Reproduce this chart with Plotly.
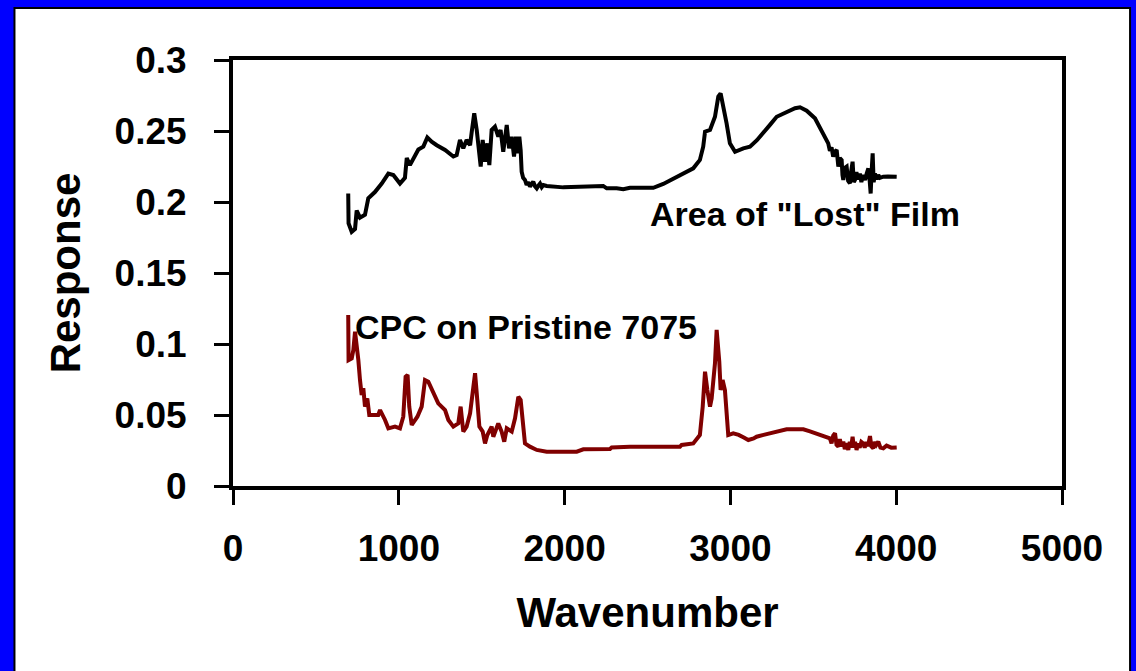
import plotly.graph_objects as go

# Wavenumber / response readings for the "Area of Lost Film" spectrum (black)
lost_x = [695, 697, 716, 736, 746, 766, 796, 816, 856, 897, 937, 967, 1007, 1037, 1048, 1067,
          1118, 1148, 1172, 1198, 1229, 1279, 1329, 1349, 1369, 1389, 1409, 1430, 1440, 1455,
          1470, 1480, 1494, 1506, 1520, 1534, 1546, 1560, 1580, 1600, 1614, 1630, 1651, 1665,
          1681, 1695, 1707, 1717, 1727, 1735, 1741, 1750, 1761, 1771, 1781, 1791, 1801, 1811,
          1822, 1832, 1842, 1852, 1862, 1872, 1892, 1992,
          2233, 2254, 2314, 2354, 2394, 2535, 2595, 2696, 2776, 2816, 2836, 2847, 2877, 2907,
          2927, 2941, 2957, 2977, 2997, 3028, 3078, 3118, 3160, 3198, 3240, 3279, 3320, 3359,
          3390, 3420, 3460, 3510, 3550, 3590, 3600, 3610, 3620, 3630, 3641, 3646, 3651, 3660,
          3671, 3676, 3681, 3690, 3701, 3710, 3721, 3729, 3737, 3744, 3751, 3760, 3770, 3781,
          3790, 3800, 3812, 3822, 3832, 3840, 3846, 3852, 3858, 3864, 3872, 3882, 3892, 3902,
          3922, 3950, 4003]
lost_y = [0.206, 0.185, 0.179, 0.181, 0.194, 0.189, 0.191, 0.2026, 0.207, 0.213, 0.220, 0.219,
          0.213, 0.217, 0.231, 0.226, 0.237, 0.239, 0.2455, 0.2425, 0.240, 0.2366, 0.232, 0.233,
          0.2437, 0.2378, 0.2437, 0.240, 0.2495, 0.2625, 0.2507, 0.2366, 0.2249, 0.2437, 0.2284,
          0.2413, 0.226, 0.2507, 0.253, 0.246, 0.2507, 0.2354, 0.2542, 0.2378, 0.246, 0.232,
          0.246, 0.2343, 0.246, 0.2366, 0.2213, 0.217, 0.2155, 0.212, 0.214, 0.2108, 0.2125,
          0.2143, 0.211, 0.2096, 0.2115, 0.213, 0.2105, 0.212, 0.2113, 0.2103,
          0.2113, 0.2096, 0.2096, 0.209, 0.210, 0.210, 0.2127, 0.219, 0.2237, 0.2296,
          0.239, 0.2495, 0.2507, 0.260, 0.2742, 0.2765, 0.2683, 0.2554, 0.2413, 0.2354, 0.2378,
          0.239, 0.2435, 0.2484, 0.2545, 0.260, 0.2625, 0.2648, 0.266, 0.2667, 0.2643, 0.2589,
          0.2507, 0.2413, 0.236, 0.2385, 0.232, 0.2355, 0.2366, 0.226, 0.2249, 0.231, 0.2296,
          0.219, 0.2155, 0.224, 0.2249, 0.215, 0.2131, 0.222, 0.2284, 0.214, 0.2155, 0.221,
          0.216, 0.220, 0.214, 0.219, 0.2155, 0.220, 0.2237, 0.215, 0.206, 0.222, 0.2343, 0.214,
          0.220, 0.216, 0.219, 0.217, 0.2178, 0.218, 0.2178]

# Readings for the "CPC on Pristine 7075" spectrum (dark red)
cpc_x = [695, 697, 716, 726, 736, 746, 756, 766, 776, 786, 796, 810, 822, 876, 887, 917, 937,
         977, 1007, 1027, 1041, 1053, 1063, 1078, 1112, 1138, 1158, 1178, 1208, 1238, 1279,
         1299, 1329, 1359, 1373, 1389, 1409, 1430, 1445, 1460, 1470, 1486, 1506, 1520, 1534,
         1560, 1570, 1600, 1620, 1636, 1651, 1681, 1701, 1721, 1735, 1751, 1761, 1791, 1832,
         1892, 2073, 2113, 2274, 2284, 2394, 2696, 2706, 2776, 2816, 2833, 2847, 2861, 2877,
         2887, 2897, 2907, 2917, 2927, 2933, 2941, 2953, 2967, 2977, 2987, 3017, 3050, 3078,
         3108, 3140, 3158, 3200, 3239, 3290, 3339, 3390, 3440, 3480, 3520, 3560, 3600, 3610,
         3620, 3631, 3640, 3651, 3660, 3670, 3681, 3690, 3700, 3711, 3720, 3728, 3737, 3745,
         3752, 3761, 3770, 3780, 3790, 3801, 3810, 3820, 3830, 3842, 3850, 3862, 3870, 3880,
         3892, 3905, 3922, 3942, 3970, 4003]
cpc_y = [0.1204, 0.0887, 0.0899, 0.0958, 0.1087, 0.1005, 0.0887, 0.0746, 0.0641, 0.0688,
         0.0559, 0.0617, 0.050, 0.050, 0.0535, 0.0465, 0.0406, 0.0418, 0.0406, 0.0488, 0.077,
         0.0782, 0.0559, 0.043, 0.0488, 0.0559, 0.0746, 0.0735, 0.0653, 0.0582, 0.0535, 0.0465,
         0.0418, 0.0441, 0.0559, 0.0383, 0.0418, 0.0512, 0.0653, 0.0794, 0.0653, 0.0418,
         0.0383, 0.030, 0.0359, 0.0418, 0.0347, 0.0441, 0.0383, 0.0312, 0.0406, 0.0383, 0.0477,
         0.0629, 0.0606, 0.0418, 0.030, 0.0277, 0.0254, 0.0242, 0.0242, 0.0258, 0.0261, 0.0272,
         0.0277, 0.0277, 0.0289, 0.030, 0.0359, 0.0559, 0.0805, 0.0676, 0.0559, 0.0617, 0.0746,
         0.0864, 0.1099, 0.0981, 0.0875, 0.0676, 0.0746, 0.0676, 0.0488, 0.0359, 0.0371, 0.036,
         0.0343, 0.0324, 0.0335, 0.0347, 0.036, 0.0371, 0.0385, 0.0399, 0.040, 0.0399, 0.0385,
         0.0371, 0.0355, 0.0336, 0.030, 0.0355, 0.0371, 0.029, 0.0277, 0.033, 0.028, 0.0312,
         0.026, 0.030, 0.0254, 0.031, 0.027, 0.0347, 0.027, 0.031, 0.0254, 0.030, 0.027, 0.031,
         0.030, 0.027, 0.031, 0.028, 0.0352, 0.028, 0.0265, 0.031, 0.029, 0.0312, 0.027, 0.0265,
         0.0284, 0.027, 0.0272]

x_ticks = [0, 1000, 2000, 3000, 4000, 5000]
x_labels = ["0", "1000", "2000", "3000", "4000", "5000"]
y_ticks = [0, 0.05, 0.1, 0.15, 0.2, 0.25, 0.3]
y_labels = ["0", "0.05", "0.1", "0.15", "0.2", "0.25", "0.3"]

FONT = "Liberation Sans, Arial, sans-serif"

fig = go.Figure()
fig.add_trace(go.Scatter(x=lost_x, y=lost_y, mode="lines", name="Area of \"Lost\" Film",
                         line=dict(color="black", width=4)))
fig.add_trace(go.Scatter(x=cpc_x, y=cpc_y, mode="lines", name="CPC on Pristine 7075",
                         line=dict(color="#800000", width=4)))

fig.add_annotation(x=2505, y=0.1915, xref="x", yref="y", text="Area of \"Lost\" Film",
                   showarrow=False, xanchor="left", yanchor="middle",
                   font=dict(family=FONT, size=34, color="black", weight="bold"))
fig.add_annotation(x=726, y=0.112, xref="x", yref="y", text="CPC on Pristine 7075",
                   showarrow=False, xanchor="left", yanchor="middle",
                   font=dict(family=FONT, size=34, color="black", weight="bold"))

# white slide panel with thin black outline over the blue background
fig.add_shape(type="rect", xref="paper", yref="paper",
              x0=-0.2636, x1=1.0821, y0=-0.46, y1=1.1221, layer="below",
              fillcolor="white", line=dict(color="black", width=2))

axis_common = dict(showgrid=False, zeroline=False, showline=True, linecolor="black",
                   linewidth=4, mirror=True, ticks="outside", ticklen=15, tickwidth=3,
                   tickcolor="black",
                   tickfont=dict(family=FONT, size=37, color="black", weight="bold"))

fig.update_xaxes(range=[0, 5000], tickvals=x_ticks, ticktext=x_labels,
                 title=dict(text="Wavenumber", standoff=30,
                            font=dict(family=FONT, size=42, color="black", weight="bold")),
                 ticklabelstandoff=12, **axis_common)
fig.update_yaxes(range=[0, 0.3], tickvals=y_ticks, ticktext=y_labels,
                 title=dict(text="Response", standoff=22,
                            font=dict(family=FONT, size=42, color="black", weight="bold")),
                 ticklabelstandoff=20, **axis_common)

fig.update_layout(width=1136, height=671, autosize=False,
                  margin=dict(l=233, r=74, t=60, b=185, autoexpand=False),
                  paper_bgcolor="#0000FF", plot_bgcolor="white", showlegend=False)

fig.write_html("out.html", config={"displayModeBar": False},
               post_script="document.body.style.margin='0';document.body.style.overflow='hidden';")
